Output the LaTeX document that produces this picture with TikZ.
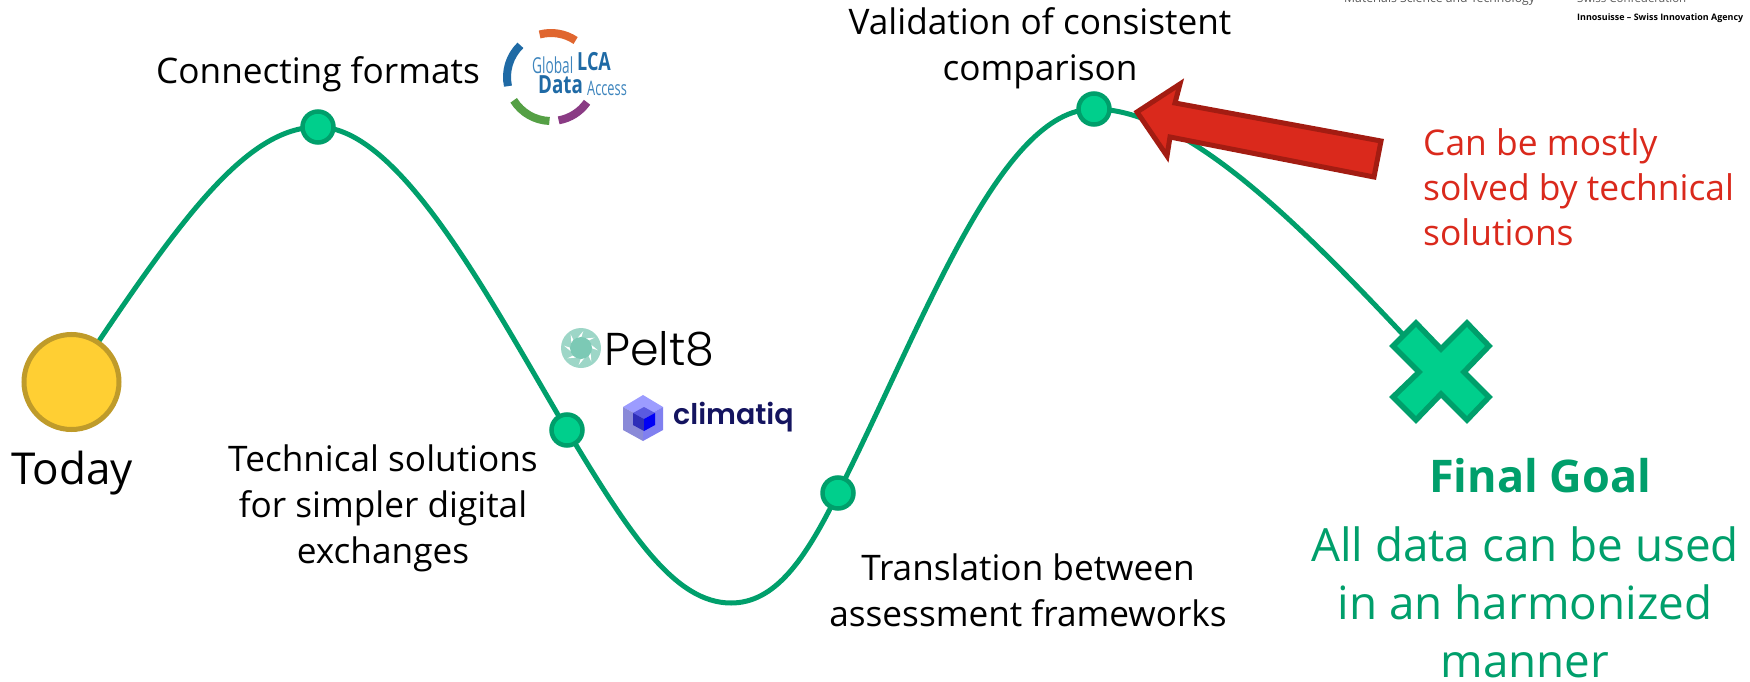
\documentclass[tikz,border=0pt]{standalone}
\usepackage{fontspec}
\usepackage{graphicx}
\setmainfont{Open Sans}
\usetikzlibrary{backgrounds}
\definecolor{pathgreen}{HTML}{009F6B}
\definecolor{dotgreen}{HTML}{00CF8C}
\definecolor{sunfill}{HTML}{FFCF33}
\definecolor{sunline}{HTML}{BF9B2A}
\definecolor{redfill}{HTML}{DA291C}
\definecolor{redline}{HTML}{A31C12}
\definecolor{lcablue}{HTML}{1F6AA5}
\definecolor{lcablue2}{HTML}{3E85BD}
\definecolor{lcaorange}{HTML}{E0662F}
\definecolor{lcagreen}{HTML}{55A045}
\definecolor{lcapurple}{HTML}{8A3B84}
\definecolor{peltgreen}{HTML}{7CC9B5}
\definecolor{climnavy}{HTML}{14145F}
\definecolor{cubea}{HTML}{9C9CFF}
\definecolor{cubeb}{HTML}{8A8AD8}
\definecolor{cubec}{HTML}{8080F0}
\definecolor{cubed}{HTML}{5A5AE0}
\definecolor{cubee}{HTML}{2E2EB8}
\definecolor{cubef}{HTML}{0000F5}
\tikzset{
  x=1pt,y=-1pt,
  dotnode/.style={circle,draw=pathgreen,fill=dotgreen,line width=4.5pt,minimum size=31pt,inner sep=0pt},
  lbl/.style={align=center,font=\fontsize{35.2}{46}\selectfont,text=black,inner sep=0pt},
  redlbl/.style={align=left,font=\fontsize{35.4}{45}\selectfont,text=redfill,inner sep=0pt},
  goalline/.style={align=center,font=\fontsize{45.8}{58}\selectfont,text=pathgreen,inner sep=0pt},
  track/.style={draw=pathgreen,line width=5pt},
  ring/.style={line width=8pt},
}
\begin{document}
\begin{tikzpicture}
\useasboundingbox (0,0) rectangle (1750,682);
\clip (0,0) rectangle (1750,682);
% nodes
\node[circle,draw=sunline,fill=sunfill,line width=5pt,minimum size=95pt,inner sep=0pt] (today) at (71.5,382) {};
\node[dotnode] (d1) at (318,127) {};
\node[dotnode] (d2) at (567,430) {};
\node[dotnode] (d3) at (838,493) {};
\node[dotnode] (d4) at (1094,109) {};
\coordinate (low) at (731,603);
\draw[draw=pathgreen,fill=dotgreen,line width=5.5pt,line join=miter]
  (1441,349) -- (1467,323) -- (1489,346) -- (1464,372) -- (1489,397) -- (1467,420) -- (1441,394) -- (1416,420) -- (1393,397) -- (1419,372) -- (1393,346) -- (1416,323) -- cycle;
\coordinate (goal) at (1425,358);
% track
\begin{scope}[on background layer]
\draw[track] (today.center) .. controls (178,222) and (245,127) .. (d1.center)
  .. controls (400,127) and (490,300) .. (d2.center)
  .. controls (630,535) and (675,603) .. (low)
  .. controls (775,603) and (805,560) .. (d3.center)
  .. controls (925,320) and (1000,109) .. (d4.center)
  .. controls (1190,109) and (1310,235) .. (goal);
\end{scope}
% red arrow
\draw[draw=redline,fill=redfill,line width=5pt,line join=miter]
  (1137,112) -- (1180,84) -- (1175,103) -- (1381,141) -- (1374,177) -- (1170,137) -- (1167,156) -- cycle;
% labels
\node[font=\fontsize{44}{50}\selectfont,inner sep=0pt] (ttoday) at (72,473) {Today};
\node[lbl] (t1) at (318,74) {Connecting formats};
\node[lbl] (t2) at (383,508) {Technical solutions\\for simpler digital\\exchanges};
\node[lbl] (t3) at (1028,590) {Translation between\\assessment frameworks};
\node[lbl] (t4) at (1040,48) {Validation of consistent\\comparison};
\node[redlbl,anchor=north west] (t5) at (1423,128) {Can be mostly\\solved by technical\\solutions};
\node[goalline,font=\fontsize{45}{57}\bfseries\selectfont] (t6) at (1540,476) {Final Goal};
\node[goalline,anchor=north] (t7) at (1525,526) {All data can be used\\in an harmonized\\manner};
% header fragments
\node[font=\fontsize{12.2}{16}\selectfont,text=black!65,inner sep=0pt,anchor=base west] (h1) at (1344,3) {Materials Science and Technology};
\node[font=\fontsize{11.5}{16}\selectfont,text=black!65,inner sep=0pt,anchor=base west] (h2) at (1577,3) {Swiss Confederation};
\node[inner sep=0pt,anchor=west] (h3) at (1577,18) {\resizebox{166pt}{!}{\fontsize{11}{13}\bfseries\selectfont Innosuisse – Swiss Innovation Agency}};
% Global LCA logo
\coordinate (lcac) at (551,77);
\draw[ring,draw=lcaorange] (lcac) ++(255:44) arc[start angle=255,end angle=304,radius=44];
\draw[ring,draw=lcablue] (lcac) ++(226:44) arc[start angle=226,end angle=168,radius=44];
\draw[ring,draw=lcagreen] (lcac) ++(148:44) arc[start angle=148,end angle=92,radius=44];
\draw[ring,draw=lcapurple] (lcac) ++(80:44) arc[start angle=80,end angle=35,radius=44];
\node[inner sep=0pt,anchor=west,text=lcablue2] (g1) at (532,65) {\scalebox{0.62}[1]{\fontsize{22}{24}\selectfont Global}};
\node[inner sep=0pt,anchor=west,text=lcablue] (g2) at (577,62) {\scalebox{0.72}[1]{\fontsize{25}{26}\bfseries\selectfont LCA}};
\node[inner sep=0pt,anchor=west,text=lcablue] (g3) at (538,85) {\scalebox{0.75}[1]{\fontsize{25}{26}\bfseries\selectfont Data}};
\node[inner sep=0pt,anchor=west,text=lcablue2] (g4) at (587,88) {\scalebox{0.64}[1]{\fontsize{20}{24}\selectfont Access}};
% Pelt8 logo
\coordinate (peltc) at (581,348);
\fill[peltgreen!75] (peltc) circle (20);
\foreach \a in {0,45,...,315}{\fill[white] (peltc) ++(\a:10) -- ++(\a+90:-3.5) -- ++(\a+40:9) -- cycle;}
\fill[peltgreen] (peltc) circle (11);
\node[inner sep=0pt,anchor=west,text=black] (p1) at (604,349) {\fontsize{46}{50}\selectfont\fontspec{Poppins Light}Pelt8};
% climatiq logo
\fill[cubea] (643,395) -- (663,407) -- (643,418) -- (623,407) -- cycle;
\fill[cubeb] (623,407) -- (643,418) -- (643,441) -- (623,430) -- cycle;
\fill[cubec] (663,407) -- (643,418) -- (643,441) -- (663,430) -- cycle;
\fill[cubed] (644,407) -- (655,413) -- (644,419) -- (633,413) -- cycle;
\fill[cubee] (633,413) -- (644,419) -- (644,431) -- (633,425) -- cycle;
\fill[cubef] (655,413) -- (644,419) -- (644,431) -- (655,425) -- cycle;
\node[inner sep=0pt,anchor=west,text=climnavy] (c1) at (673,417) {\fontsize{28.5}{36}\selectfont\fontspec{Poppins SemiBold}climatiq};
\end{tikzpicture}
\end{document}
